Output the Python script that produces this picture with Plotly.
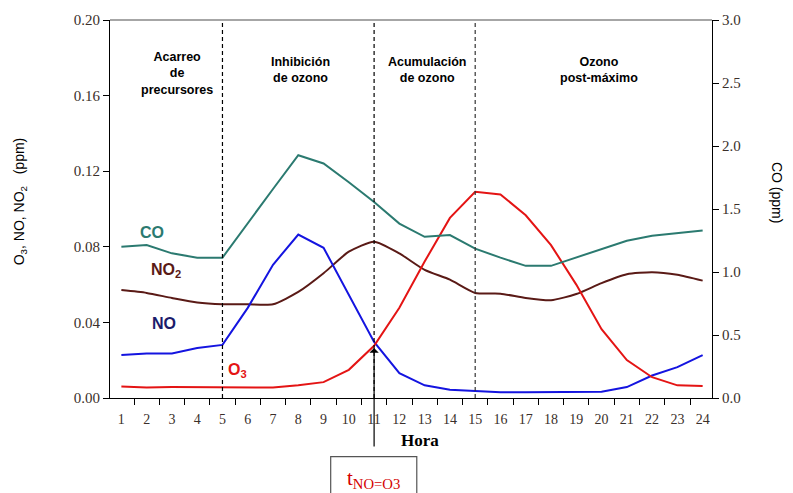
import plotly.graph_objects as go

hours = list(range(1, 25))
o3 = [0.0061, 0.0056, 0.0058, 0.0058, 0.0055, 0.0054, 0.0055, 0.0067, 0.0084, 0.0149, 0.0276, 0.0477,
      0.0722, 0.0953, 0.1091, 0.1077, 0.0967, 0.0809, 0.0600, 0.0364, 0.0201, 0.0110, 0.0067, 0.0063]
no = [0.0227, 0.0236, 0.0236, 0.0264, 0.0281, 0.0477, 0.0705, 0.0865, 0.0795, 0.0547, 0.0297, 0.0131,
      0.0067, 0.0044, 0.0037, 0.0031, 0.0031, 0.0031, 0.0031, 0.0033, 0.0058, 0.0119, 0.0163, 0.0227]
no2 = [0.0571, 0.0556, 0.0529, 0.0505, 0.0496, 0.0496, 0.0496, 0.0561, 0.0660, 0.0774, 0.0827, 0.0765,
       0.0678, 0.0626, 0.0556, 0.0552, 0.0529, 0.0517, 0.0550, 0.0608, 0.0655, 0.0666, 0.0652, 0.0621]
co = [1.200, 1.214, 1.148, 1.114, 1.114, 1.389, 1.659, 1.927, 1.861, 1.712, 1.555, 1.384,
      1.279, 1.293, 1.185, 1.114, 1.049, 1.049, 1.114, 1.183, 1.248, 1.287, 1.308, 1.329]

left_ticks = [0.0, 0.04, 0.08, 0.12, 0.16, 0.20]
right_ticks = [0.0, 0.5, 1.0, 1.5, 2.0, 2.5, 3.0]
phase_bounds = [5, 11, 15]
phase_labels = ["Acarreo<br>de<br>precursores", "Inhibición<br>de ozono",
                "Acumulación<br>de ozono", "Ozono<br>post-máximo"]
phase_x = [3.2, 8.1, 13.1, 19.9]
phase_y = [0.1718, 0.1734, 0.1734, 0.1734]

C_CO = "#2b7a70"
C_NO2 = "#5a1a16"
C_NO = "#1414e0"
C_O3 = "#e41414"

fig = go.Figure()
fig.add_trace(go.Scatter(x=hours, y=co, yaxis="y2", mode="lines", line=dict(color=C_CO, width=2), name="CO"))
fig.add_trace(go.Scatter(x=hours, y=no2, mode="lines", line=dict(color=C_NO2, width=2, shape="spline", smoothing=0.6), name="NO2"))
fig.add_trace(go.Scatter(x=hours, y=no, mode="lines", line=dict(color=C_NO, width=2), name="NO"))
fig.add_trace(go.Scatter(x=hours, y=o3, mode="lines", line=dict(color=C_O3, width=2), name="O3"))

tickfont = dict(family="Liberation Serif", size=15, color="#3a2f2a")

fig.update_layout(
    width=793, height=493,
    margin=dict(l=110, r=81, t=16, b=95),
    paper_bgcolor="white", plot_bgcolor="white",
    showlegend=False,
    xaxis=dict(range=[0.55, 24.37], tickvals=hours, ticktext=[str(h) for h in hours],
               ticks="", showgrid=False, zeroline=False, showline=True, linecolor="black", linewidth=1,
               ticklabelstandoff=8,
               tickfont=dict(family="Liberation Serif", size=14, color="#3a2f2a"),
               minor=dict(tickvals=[h + 0.5 for h in hours[:-1]], ticks="outside", ticklen=6,
                          tickcolor="black", showgrid=False)),
    yaxis=dict(range=[0, 0.2], tickvals=left_ticks, tickformat=".2f", ticks="outside", ticklen=6,
               tickcolor="black", showgrid=False, zeroline=False, showline=True, linecolor="black",
               tickfont=tickfont),
    yaxis2=dict(range=[0, 3], tickvals=right_ticks, tickformat=".1f", overlaying="y", side="right",
                ticks="outside", ticklen=6, tickcolor="black", showgrid=False, zeroline=False,
                showline=True, linecolor="black", tickfont=tickfont),
)

shapes = [dict(type="line", xref="paper", yref="paper", x0=0, x1=1, y0=1, y1=1,
               line=dict(color="#888888", width=1.5))]
for b in phase_bounds:
    shapes.append(dict(type="line", xref="x", yref="paper", x0=b, x1=b, y0=0, y1=1,
                       line=dict(color="#333333" if b == 15 else "black", width=1.2, dash="4px,3px")))
shapes.append(dict(type="rect", xref="paper", yref="paper", x0=0.3666, x1=0.5096, y0=-0.155, y1=-0.30,
                   line=dict(color="#555555", width=1.2)))
fig.update_layout(shapes=shapes)

ann = []
for lbl, px, py in zip(phase_labels, phase_x, phase_y):
    ann.append(dict(x=px, y=py, xref="x", yref="y", text="<b>" + lbl + "</b>", showarrow=False,
                    yanchor="middle", xanchor="center", align="center",
                    font=dict(family="Liberation Sans", size=12.5, color="black")))
ann += [
    dict(x=2.2, y=0.0875, xref="x", yref="y", text="<b>CO</b>", showarrow=False,
         font=dict(family="Liberation Sans", size=16, color=C_CO)),
    dict(x=2.75, y=0.0675, xref="x", yref="y", text="<b>NO<sub>2</sub></b>", showarrow=False,
         font=dict(family="Liberation Sans", size=16, color=C_NO2)),
    dict(x=2.7, y=0.0395, xref="x", yref="y", text="<b>NO</b>", showarrow=False,
         font=dict(family="Liberation Sans", size=16, color="#1b1b6b")),
    dict(x=5.6, y=0.0145, xref="x", yref="y", text="<b>O<sub>3</sub></b>", showarrow=False,
         font=dict(family="Liberation Sans", size=16, color=C_O3)),
    dict(x=11, y=0.0275, xref="x", yref="y", text="", showarrow=True, arrowhead=1, arrowsize=1.3,
         arrowwidth=1.2, arrowcolor="black", ax=0, ay=102, standoff=2),
    dict(x=0.4382, y=-0.215, xref="paper", yref="paper", text="t<sub>NO=O3</sub>", showarrow=False,
         xanchor="center", yanchor="middle",
         font=dict(family="Liberation Serif", size=21, color="#d40000")),
    dict(x=0.515, y=-0.112, xref="paper", yref="paper", text="<b>Hora</b>", showarrow=False,
         xanchor="center", yanchor="middle",
         font=dict(family="Liberation Serif", size=17, color="black")),
    dict(x=-0.148, y=0.52, xref="paper", yref="paper", text="O<sub>3</sub>, NO, NO<sub>2</sub>   (ppm)",
         showarrow=False, textangle=-90, xanchor="center", yanchor="middle",
         font=dict(family="Liberation Sans", size=14, color="black")),
    dict(x=1.108, y=0.545, xref="paper", yref="paper", text="CO (ppm)", showarrow=False, textangle=90,
         xanchor="center", yanchor="middle",
         font=dict(family="Liberation Sans", size=14, color="black")),
]
fig.update_layout(annotations=ann)

fig.write_html("out.html")
